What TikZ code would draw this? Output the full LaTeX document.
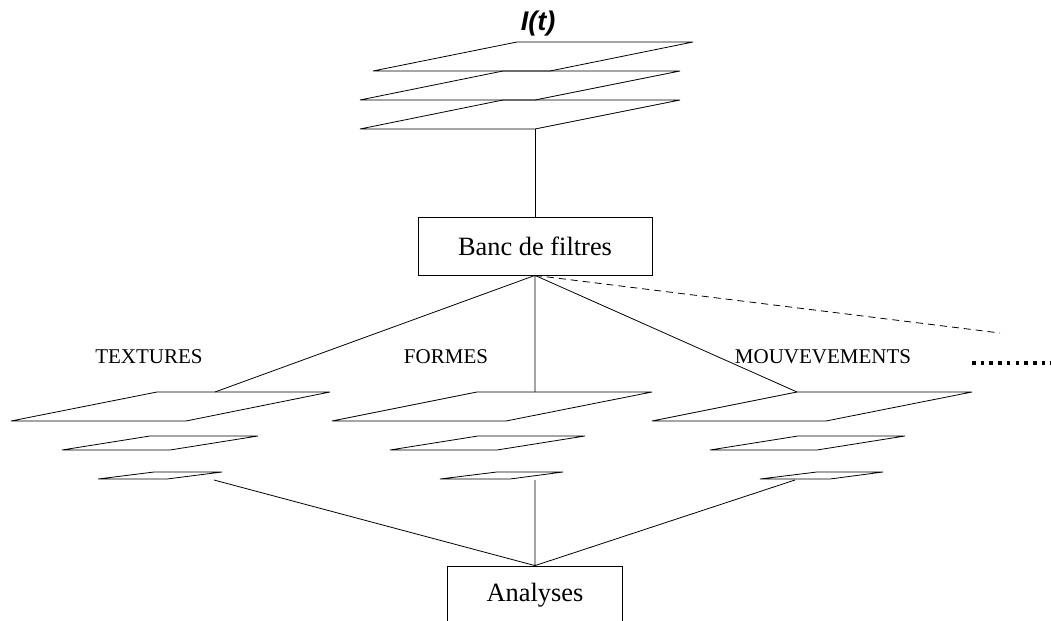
\documentclass[tikz,border=0pt]{standalone}
\usepackage{fontspec}
\setmainfont{Liberation Serif}
\newfontfamily\titfont{Liberation Sans}
\usetikzlibrary{positioning}
\tikzset{
  x=0.5pt, y=-0.5pt,
  line width=0.5pt,
  plan/.style={line join=miter},
  boite/.style={draw, minimum height=29pt, inner sep=0pt, font=\fontsize{13.2}{15}\selectfont},
  titre/.style={font=\fontsize{10.5}{12}\selectfont, anchor=base},
  suite/.style={dash pattern=on 3.5pt off 2.5pt},
  points/.style={line width=1.8pt, dash pattern=on 1.8pt off 2.55pt},
}

\begin{document}
\begin{tikzpicture}
      \clip (0,0) rectangle (1051,621);

      % image d'entree
      \node[anchor=base, font=\titfont\fontsize{13.5}{15}\selectfont\bfseries\itshape] (it) at (538,31) {I(t)};
      \draw[plan] (373,71) -- (550,71) -- (693,42) -- (517,42) -- cycle;
      \draw[plan] (360,100) -- (535,100) -- (680,71) -- (503,71) -- cycle;
      \draw[plan] (360,129) -- (535,129) -- (680,100) -- (503,100) -- cycle;
      \coordinate (haut) at (535,129);

      \node[boite, minimum width=117pt] (banc) at (535,246) {Banc de filtres};
      \node[boite, minimum width=87.5pt] (ana) at (535,595) {Analyses};

      % pyramides
      \draw[plan] (11,421) -- (186,421) -- (330,392) -- (157,392) -- cycle;
      \draw[plan] (62,450) -- (170,450) -- (258,436) -- (150,436) -- cycle;
      \draw[plan] (98,479) -- (167,479) -- (222,472) -- (154,472) -- cycle;
      \coordinate (texh) at (215,392);
      \coordinate (texb) at (214,480);

      \draw[plan] (332,421) -- (506,421) -- (652,392) -- (477,392) -- cycle;
      \draw[plan] (390,450) -- (497,450) -- (585,436) -- (478,436) -- cycle;
      \draw[plan] (440,479) -- (510,479) -- (563,472) -- (497,472) -- cycle;
      \coordinate (forh) at (535,392);
      \coordinate (forb) at (535,480);

      \draw[plan] (652,421) -- (826,421) -- (972,392) -- (797,392) -- cycle;
      \draw[plan] (710,450) -- (817,450) -- (905,436) -- (798,436) -- cycle;
      \draw[plan] (760,479) -- (830,479) -- (883,472) -- (817,472) -- cycle;
      \coordinate (mouh) at (797,392);
      \coordinate (moub) at (795,480);

      \node[titre] (tex) at (149,363) {TEXTURES};
      \node[titre] (for) at (446,363) {FORMES};
      \node[titre] (mou) at (823,363) {MOUVEVEMENTS};

      \coordinate (fin) at (1000,333);
      \coordinate (p1) at (972,363);
      \coordinate (p2) at (1051,363);

      \draw (haut) -- (banc.north);
      \draw (banc.south) -- (texh)
            (banc.south) -- (forh)
            (banc.south) -- (mouh);
      \draw[suite] (banc.south) -- (fin);
      \draw[points] (p1) -- (p2);
      \draw (texb) -- (ana.north)
            (forb) -- (ana.north)
            (moub) -- (ana.north);
\end{tikzpicture}
\end{document}
